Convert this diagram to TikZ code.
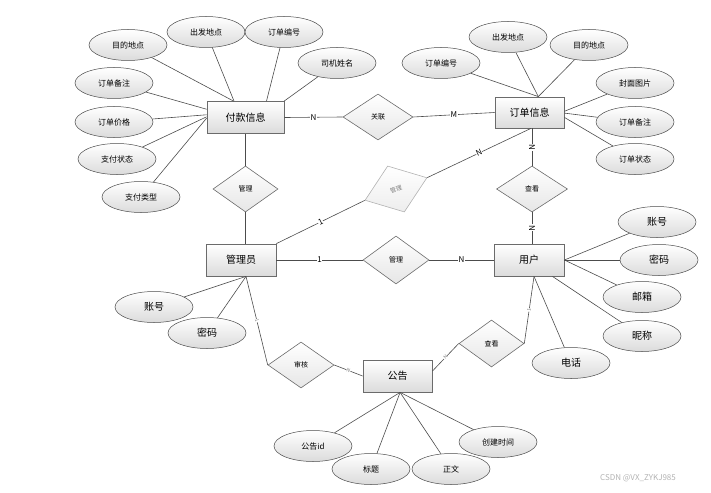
\documentclass[tikz,border=0pt]{standalone}
\usepackage{fontspec}
\setmainfont{Noto Sans CJK SC}
\usetikzlibrary{shapes.geometric}
\usepackage{xcolor}
\definecolor{lineGray}{rgb}{0.3,0.3,0.3}
\definecolor{edgeGray}{rgb}{0.42,0.42,0.42}
\definecolor{shadeGray}{rgb}{0.86,0.86,0.86}
\definecolor{fadeGray}{rgb}{0.7,0.7,0.7}
\tikzset{
  entity/.style={
    rectangle,
    draw=edgeGray,
    line width=0.8pt,
    top color=white,
    bottom color=shadeGray,
    inner sep=0pt,
    minimum width=70pt,
    minimum height=32pt,
    font=\fontsize{10}{12}\selectfont
  },
  relation/.style={
    diamond,
    draw=edgeGray,
    line width=0.6pt,
    top color=white,
    bottom color=shadeGray!70,
    inner sep=0pt,
    minimum width=68pt,
    minimum height=46pt,
    font=\fontsize{7}{8}\selectfont
  },
  faded/.style={
    draw=fadeGray,
    text=gray,
    bottom color=shadeGray!50,
    font=\fontsize{6}{6}\selectfont
  },
  attr/.style={
    ellipse,
    draw=lineGray,
    line width=0.5pt,
    top color=white,
    bottom color=shadeGray,
    inner sep=0pt,
    minimum width=78pt,
    minimum height=31pt
  },
  link/.style={draw=lineGray, line width=0.6pt},
  card/.style={fill=white, inner sep=0.6pt, font=\fontsize{8}{9}\selectfont},
  cardSmall/.style={fill=white, inner sep=0.3pt, text=gray, font=\fontsize{5}{5}\selectfont, sloped}
}

\begin{document}
\begin{tikzpicture}[
    x=1pt, y=-1pt,
    font=\fontsize{8}{9}\selectfont
  ]
  \useasboundingbox (0,0) rectangle (711,492);

  % entities
  \node[entity, minimum width=77pt] (pay) at (245.5,117.5) {付款信息};
  \node[entity, minimum width=69pt, minimum height=31pt] (ord) at (529.5,112.5) {订单信息};
  \node[entity] (adm) at (241,260) {管理员};
  \node[entity] (usr) at (529,260) {用户};
  \node[entity, minimum width=69pt] (ann) at (397.5,376) {公告};

  % relations
  \node[relation, minimum width=70pt] (rel) at (378,117) {关联};
  \node[relation, minimum width=65pt] (mgA) at (245.5,189) {管理};
  \node[relation, minimum width=66pt, minimum height=48pt] (mgB) at (396,260) {管理};
  \node[relation, minimum width=71pt] (vwA) at (532,189) {查看};
  \node[relation, faded, minimum width=66pt, minimum height=49pt, rotate=20] (gd) at (396,189) {管理};
  \node[relation, minimum width=66pt] (aud) at (301,365) {审核};
  \node[relation, minimum width=65pt, minimum height=47pt] (vwB) at (491.5,343.5) {查看};

  % attributes
  \foreach \nm/\pos/\txt/\ang in {a1/{128,45}/目的地点/126, a2/{206,32}/出发地点/125,
      a3/{284,32}/订单编号/38, a4/{337,63}/司机姓名/23, a5/{114,83}/订单备注/168,
      a6/{114,122}/订单价格/176, a7/{117,159}/支付状态/179, a8/{141,197}/支付类型/181}{
    \node[attr] (\nm) at (\pos) {\txt};
    \draw[link] (\nm) -- (pay.\ang);
  }
  \foreach \nm/\pos/\txt/\ang in {b1/{441,63}/订单编号/61, b2/{508,37}/出发地点/61,
      b3/{589,45}/目的地点/61, b4/{635,83}/封面图片/2, b5/{635,122}/订单备注/-1,
      b6/{635,159}/订单状态/-8}{
    \node[attr] (\nm) at (\pos) {\txt};
    \draw[link] (\nm) -- (ord.\ang);
  }
  \foreach \nm/\pos/\txt/\ang in {c1/{657,222}/账号/0, c2/{659,260}/密码/0,
      c3/{642,297}/邮箱/0, c4/{642,336}/昵称/-35, c5/{571,363}/电话/-73}{
    \node[attr, font=\fontsize{10}{12}\selectfont] (\nm) at (\pos) {\txt};
    \draw[link] (\nm) -- (usr.\ang);
  }
  \foreach \nm/\pos/\txt in {d1/{154,307}/账号, d2/{207,333}/密码}{
    \node[attr, font=\fontsize{10}{12}\selectfont] (\nm) at (\pos) {\txt};
    \draw[link] (\nm) -- (adm.-73);
  }
  \foreach \nm/\pos/\txt in {e1/{313,446}/公告id, e2/{371,469}/标题,
      e3/{451,469}/正文, e4/{498,442}/创建时间}{
    \node[attr] (\nm) at (\pos) {\txt};
    \draw[link] (\nm) -- (ann.-81);
  }

  % connectors
  \draw[link] (pay.east) -- node[card] {N} (rel.west);
  \draw[link] (rel.east) -- node[card] {M} (ord.west);
  \draw[link] (pay.south -| mgA.north) -- (mgA.north);
  \draw[link] (mgA.south) -- (mgA.south |- adm.north);
  \draw[link] (vwA.north |- ord.south) -- node[card, sloped] {N} (vwA.north);
  \draw[link] (vwA.south) -- node[card, sloped] {N} (vwA.south |- usr.north);
  \draw[link] (adm.east) -- node[card] {1} (mgB.west);
  \draw[link] (mgB.east) -- node[card] {N} (usr.west);
  \draw[link] (adm.north east) -- node[card, sloped, inner sep=0.2pt] {1} (gd.west);
  \draw[link] (gd.east) -- node[card, sloped, inner sep=0.2pt] {N} (ord.-85);
  \draw[link] (adm.-73) -- node[cardSmall] {1} (aud.west);
  \draw[link] (aud.east) -- node[cardSmall] {N} (ann.west);
  \draw[link] (ann.8) -- node[cardSmall] {N} (vwB.west);
  \draw[link] (vwB.east) -- node[cardSmall] {1} (usr.-73);

  \node[text=fadeGray, font=\fontsize{8}{9}\selectfont] (mark) at (638,478) {CSDN @VX\_ZYKJ985};
\end{tikzpicture}
\end{document}
